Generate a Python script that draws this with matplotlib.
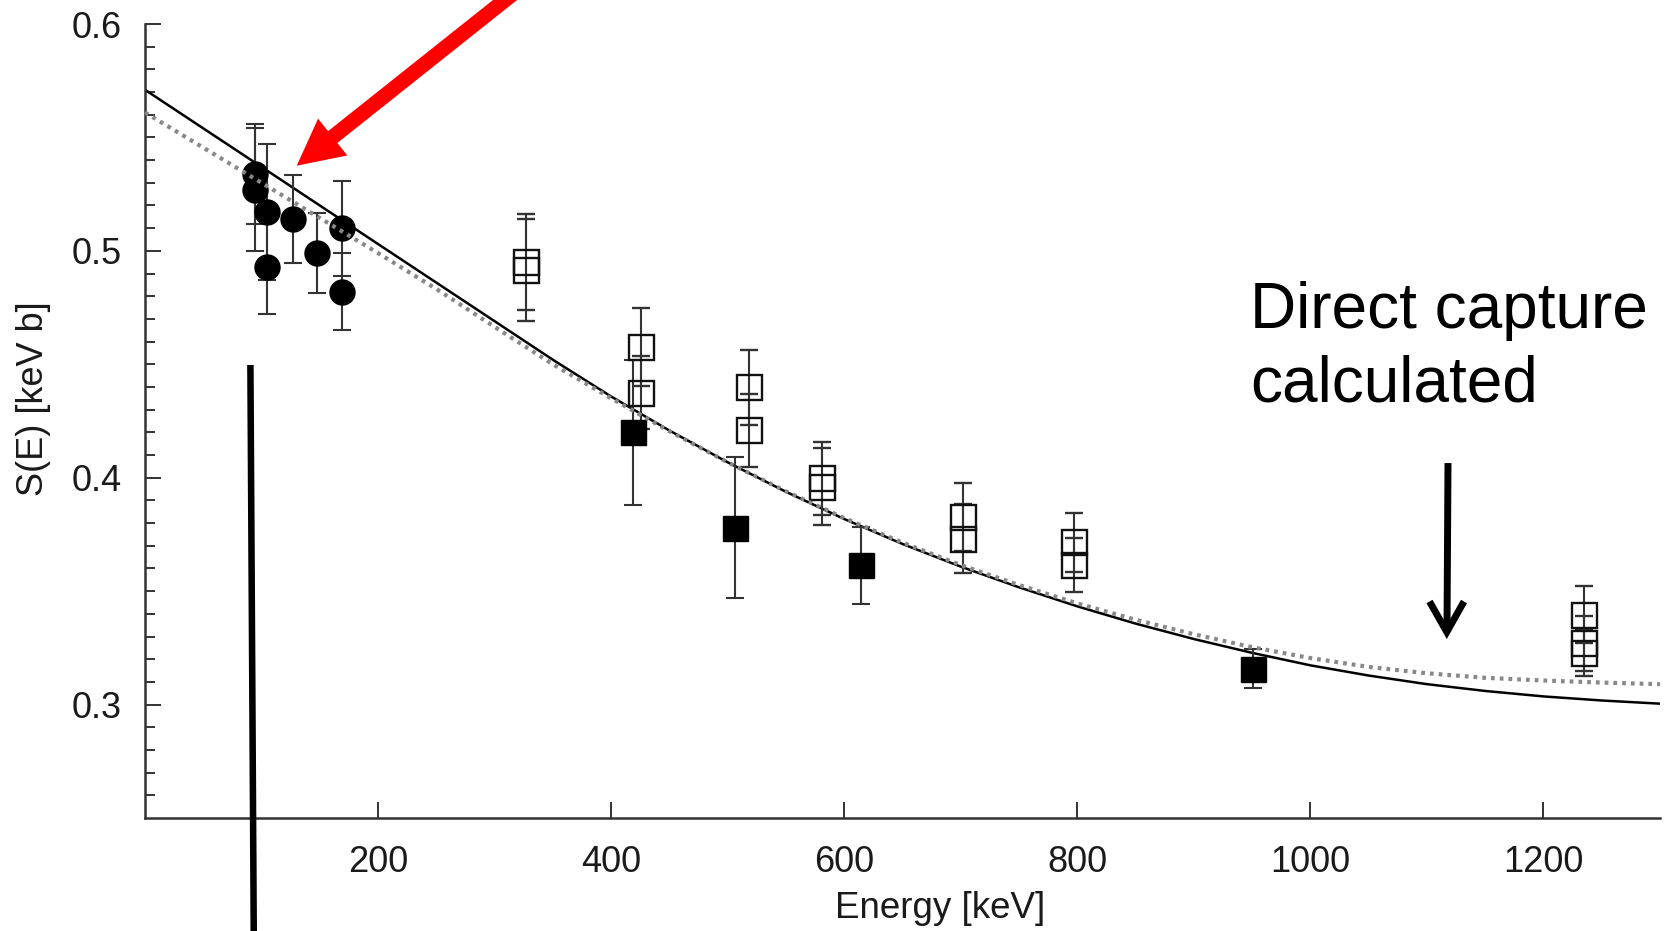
import matplotlib
matplotlib.use('Agg')
import matplotlib.pyplot as plt
from matplotlib.lines import Line2D
from matplotlib.patches import FancyArrow
from matplotlib.transforms import IdentityTransform

plt.rcParams['font.family'] = ['Liberation Sans', 'DejaVu Sans']

# values
# filled circles
circ_E = [94, 94, 105, 105, 127, 148, 169, 169]
circ_S = [0.534, 0.527, 0.517, 0.493, 0.514, 0.499, 0.510, 0.482]
circ_err = [0.022, 0.027, 0.030, 0.021, 0.0195, 0.0175, 0.021, 0.017]

# filled squares
fsq_E = [419, 506, 614, 951]
fsq_S = [0.420, 0.378, 0.3614, 0.3158]
fsq_err = [0.032, 0.031, 0.017, 0.0085]

# open squares
osq_E = [327, 327, 426, 426, 518, 518, 581, 581, 702, 702, 797, 797, 1235, 1235, 1235]
osq_S = [0.4951, 0.4915, 0.4577, 0.4375, 0.4398, 0.4209, 0.3997, 0.3960,
         0.3828, 0.3732, 0.3715, 0.3615, 0.3397, 0.3270, 0.3228]
osq_err = [0.0213, 0.0225, 0.0172, 0.016, 0.0165, 0.016, 0.016, 0.017,
           0.015, 0.015, 0.013, 0.012, 0.0125, 0.012, 0.010]

# the two calculated curves
curve_E = [0, 50, 100, 150, 200, 250, 300, 350, 400, 450, 500, 550, 600, 650,
           700, 750, 800, 850, 900, 950, 1000, 1050, 1100, 1150, 1200, 1250, 1300]
solid_S = [0.571, 0.554, 0.537, 0.520, 0.503, 0.486, 0.469, 0.452, 0.4358, 0.4208,
           0.4068, 0.3938, 0.3818, 0.3708, 0.3608, 0.3517, 0.3433, 0.3357, 0.3289,
           0.3228, 0.3173, 0.3128, 0.3090, 0.3060, 0.3036, 0.3018, 0.3004]
dotted_S = [0.561, 0.5455, 0.530, 0.5145, 0.499, 0.4832, 0.4665, 0.450, 0.435, 0.4205,
            0.4068, 0.394, 0.3822, 0.3714, 0.3615, 0.3527, 0.3446, 0.3374, 0.331,
            0.3253, 0.3205, 0.3166, 0.3138, 0.3118, 0.3106, 0.3097, 0.309]

x_ticks = [200, 400, 600, 800, 1000, 1200]
y_ticks = [0.3, 0.4, 0.5, 0.6]
y_ticklabels = ['0.3', '0.4', '0.5', '0.6']

fig = plt.figure(figsize=(16.71, 9.31), dpi=100)
ax = fig.add_axes([0.08677, 0.12137, 0.90664, 0.85285])

ax.plot(curve_E, solid_S, color='black', lw=1.8, zorder=2)
ax.plot(curve_E, dotted_S, color='#888888', lw=3.0, ls=(0, (0.9, 1.2)), zorder=4)

eb = dict(ecolor='#333333', elinewidth=1.5, capsize=6.3, capthick=1.5, zorder=3)
ax.errorbar(circ_E, circ_S, yerr=circ_err, fmt='o', ms=18, mfc='black', mec='black', **eb)
ax.errorbar(fsq_E, fsq_S, yerr=fsq_err, fmt='s', ms=18, mfc='black', mec='black', **eb)
ax.errorbar(osq_E, osq_S, yerr=osq_err, fmt='s', ms=18, mfc='none', mec='#111111', mew=1.7, **eb)

ax.set_xlim(0, 1300)
ax.set_ylim(0.25, 0.6)
ax.set_xticks(x_ticks)
ax.set_xticklabels([str(t) for t in x_ticks])
ax.set_yticks(y_ticks)
ax.set_yticklabels(y_ticklabels)
ax.set_yticks([0.25 + 0.01 * i for i in range(1, 35)], minor=True)

for s in ['top', 'right']:
    ax.spines[s].set_visible(False)
for s in ['left', 'bottom']:
    ax.spines[s].set_linewidth(1.8)
    ax.spines[s].set_color('#333333')

ax.tick_params(which='major', direction='in', length=11.5, width=1.4, color='#333333',
               labelsize=26, labelcolor='#1a1a1a')
ax.tick_params(axis='x', which='major', pad=19.4)
ax.tick_params(axis='y', which='major', pad=16.6)
ax.tick_params(axis='y', which='minor', direction='in', length=7, width=1.4, color='#333333')

ax.set_xlabel('Energy [keV]', fontsize=26.5, color='#1a1a1a')
ax.xaxis.set_label_coords(0.5248, -0.092)
ax.set_ylabel('S(E) [keV b]', fontsize=26, color='#1a1a1a')
ax.yaxis.set_label_coords(-0.062, 0.5277)

# annotations drawn on top of the figure (pixel coordinates, origin bottom left)
H = 931
fig.text(1250 / 1671, 1 - 281 / H, 'Direct capture\ncalculated', fontsize=46,
         ha='left', va='top', linespacing=1.28, color='black')

fig.add_artist(FancyArrow(562.9, H + 46, -266.2, -211.7, width=15, head_width=47,
                          head_length=46, length_includes_head=True, color='#ff0000',
                          lw=0, transform=IdentityTransform()))

fig.add_artist(Line2D([250.4, 253.8], [H - 365, -10], color='black', lw=4.7,
                      solid_capstyle='butt', transform=IdentityTransform()))

fig.add_artist(Line2D([1448, 1447], [H - 463, H - 628], color='black', lw=5,
                      solid_capstyle='butt', transform=IdentityTransform()))
fig.add_artist(Line2D([1429.5, 1446.8, 1464], [H - 601.5, H - 632, H - 601.5], color='black',
                      lw=5, solid_capstyle='butt', solid_joinstyle='miter',
                      transform=IdentityTransform()))

fig.savefig('out.png', dpi=100)
